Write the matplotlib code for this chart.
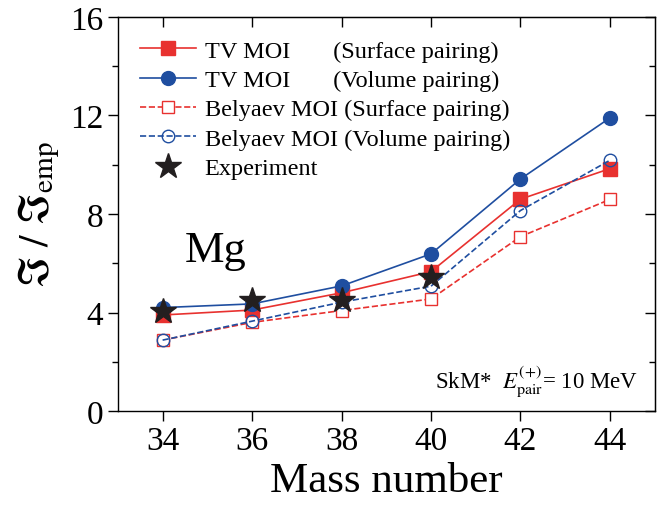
import numpy as np
import matplotlib.pyplot as plt
from matplotlib.ticker import MultipleLocator

plt.rcParams['font.family'] = ['Liberation Serif', 'DejaVu Serif']
plt.rcParams['mathtext.fontset'] = 'stix'

# 数据
mass = [34, 36, 38, 40, 42, 44]
tv_surface = [3.90, 4.10, 4.80, 5.66, 8.60, 9.84]
tv_volume = [4.20, 4.35, 5.08, 6.38, 9.42, 11.90]
bel_surface = [2.88, 3.60, 4.08, 4.55, 7.08, 8.59]
bel_volume = [2.88, 3.65, 4.42, 5.07, 8.14, 10.18]
exp_mass = [34, 36, 38, 40]
exp_val = [4.05, 4.52, 4.52, 5.43]

red = '#e8312f'
blue = '#1f4ea0'

fig = plt.figure(figsize=(6.66, 5.10), dpi=100)
ax = fig.add_axes([0.177, 0.192, 0.806, 0.773])

ax.plot(mass, tv_surface, '-s', color=red, ms=10, lw=1.2, label='TV MOI       (Surface pairing)')
ax.plot(mass, tv_volume, '-o', color=blue, ms=10, lw=1.2, label='TV MOI       (Volume pairing)')
ax.plot(mass, bel_surface, '--s', color=red, ms=9, lw=1.2, mfc='white', mew=1.0,
        label='Belyaev MOI (Surface pairing)')
ax.plot(mass, bel_volume, '--o', color=blue, ms=9, lw=1.2, mfc='none', mew=1.0,
        label='Belyaev MOI (Volume pairing)')
ax.plot(exp_mass, exp_val, '*', color='#231f20', ms=19, ls='none', label='Experiment', zorder=5)

ax.set_xlim(33, 45)
ax.set_ylim(0, 16)
ax.set_xticks(mass)
ax.yaxis.set_major_locator(MultipleLocator(4))
ax.yaxis.set_minor_locator(MultipleLocator(2))

ax.tick_params(axis='both', which='major', direction='out', length=7, width=1,
               labelsize=24, top=False, right=False)
ax.tick_params(axis='both', which='minor', direction='out', length=4, width=1,
               top=False, right=False)

# 上/右侧内向刻度
ax_top = ax.secondary_xaxis('top')
ax_top.set_xticks(mass)
ax_top.tick_params(direction='in', length=7, width=1, labeltop=False)
ax_right = ax.secondary_yaxis('right')
ax_right.yaxis.set_major_locator(MultipleLocator(4))
ax_right.yaxis.set_minor_locator(MultipleLocator(2))
ax_right.tick_params(which='major', direction='in', length=7, width=1, labelright=False)
ax_right.tick_params(which='minor', direction='in', length=4, width=1)

for s in ax.spines.values():
    s.set_linewidth(1)

ax.set_xlabel('Mass number', fontsize=31, labelpad=4)
ax.set_ylabel(r'$\Im\ /\ \Im_{\rm emp}$', fontsize=30, labelpad=6)

ax.text(0.125, 0.38, 'Mg', transform=ax.transAxes, fontsize=32)
ax.text(0.97, 0.06, r'SkM*  $E^{(+)}_{\rm pair}$= 10 MeV', transform=ax.transAxes,
        fontsize=16.5, ha='right', va='baseline')

ax.legend(loc='upper left', bbox_to_anchor=(0.01, 0.985), frameon=False, fontsize=17.5,
          handlelength=2.3, handletextpad=0.35, labelspacing=0.3, borderaxespad=0.3,
          numpoints=1)

plt.savefig('out.png', dpi=100)
